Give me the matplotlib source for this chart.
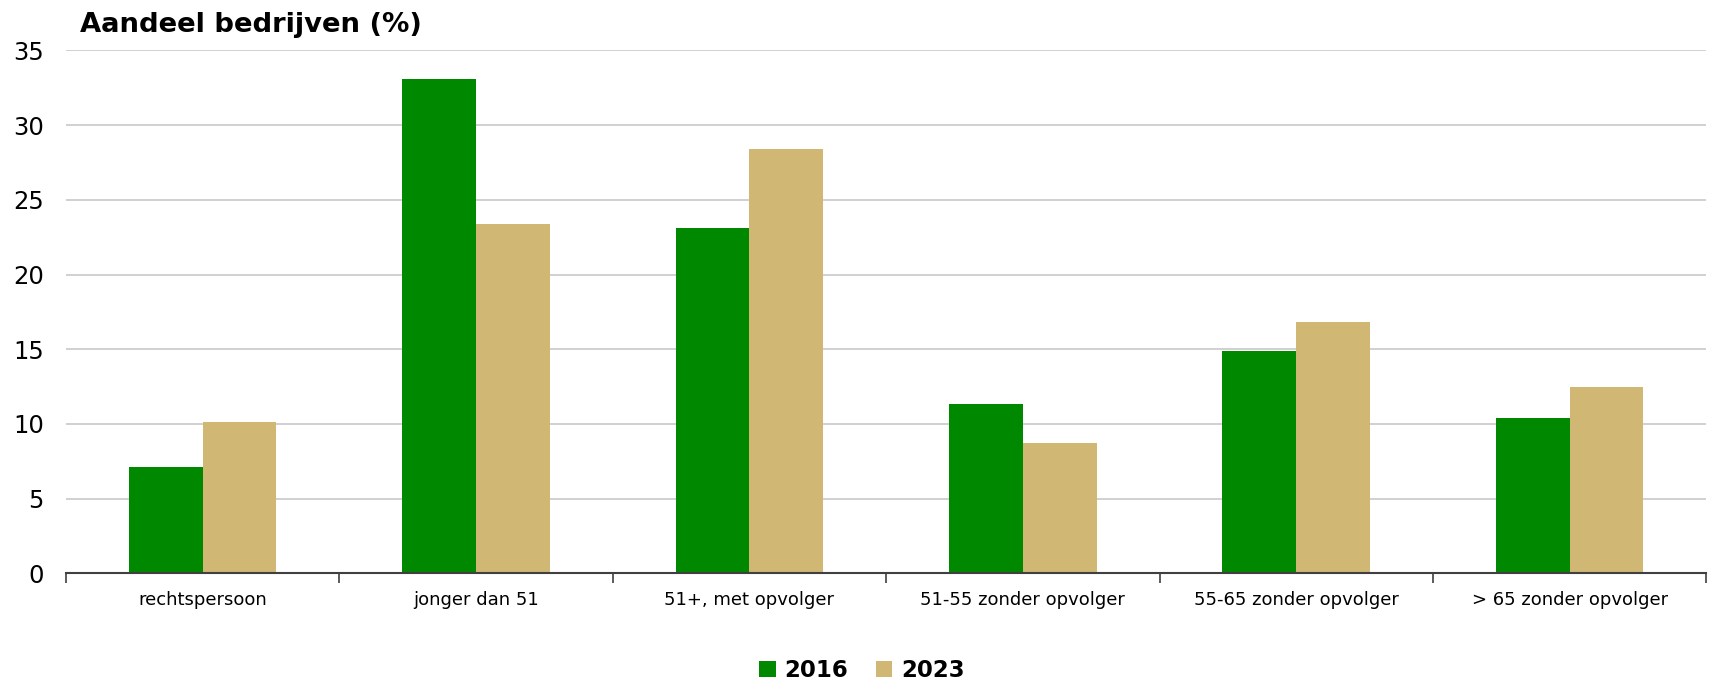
import matplotlib.pyplot as plt
from matplotlib.ticker import FixedLocator, NullFormatter
import numpy as np

# data
categories = ['rechtspersoon', 'jonger dan 51', '51+, met opvolger',
              '51-55 zonder opvolger', '55-65 zonder opvolger', '> 65 zonder opvolger']
share_2016 = [7.1, 33.1, 23.1, 11.3, 14.9, 10.4]
share_2023 = [10.1, 23.4, 28.4, 8.7, 16.8, 12.5]
series_labels = ['2016', '2023']

green = '#008800'
tan = '#d0b874'

fig = plt.figure(figsize=(17.14, 6.83), dpi=100)
ax = fig.add_axes([0.0385, 0.1606, 0.957, 0.7656])

x = np.arange(len(categories))
bar_width = 0.27
ax.bar(x - bar_width / 2, share_2016, bar_width, color=green, label=series_labels[0], zorder=3)
ax.bar(x + bar_width / 2, share_2023, bar_width, color=tan, label=series_labels[1], zorder=3)

ax.set_xlim(-0.5, len(categories) - 0.5)
ax.set_ylim(0, 35)
ax.set_yticks(range(0, 36, 5))
ax.yaxis.grid(True, color='#c8c8c8', linewidth=1.2, zorder=0)
ax.tick_params(axis='y', length=0, labelsize=17.5, pad=16)

# category labels centred, tick marks between categories
ax.set_xticks(x)
ax.set_xticklabels(categories, fontsize=13)
ax.tick_params(axis='x', which='major', length=0, pad=13)
ax.xaxis.set_minor_locator(FixedLocator(np.arange(-0.5, len(categories), 1.0)))
ax.xaxis.set_minor_formatter(NullFormatter())
ax.tick_params(axis='x', which='minor', length=7, width=1.2, color='#404040', direction='out')

for side in ['left', 'right', 'top']:
    ax.spines[side].set_visible(False)
ax.spines['bottom'].set_color('#404040')
ax.spines['bottom'].set_linewidth(1.5)
ax.spines['bottom'].set_zorder(4)

fig.text(0.0467, 0.953, 'Aandeel bedrijven (%)', fontsize=19.7, fontweight='bold', va='baseline')

fig.legend(loc='center', bbox_to_anchor=(0.503, 0.018), ncol=2, frameon=False,
           prop={'size': 16.5, 'weight': 'bold'}, handlelength=0.7, handleheight=0.7,
           handletextpad=0.4, columnspacing=1.2)

fig.savefig('out.png', dpi=100)
